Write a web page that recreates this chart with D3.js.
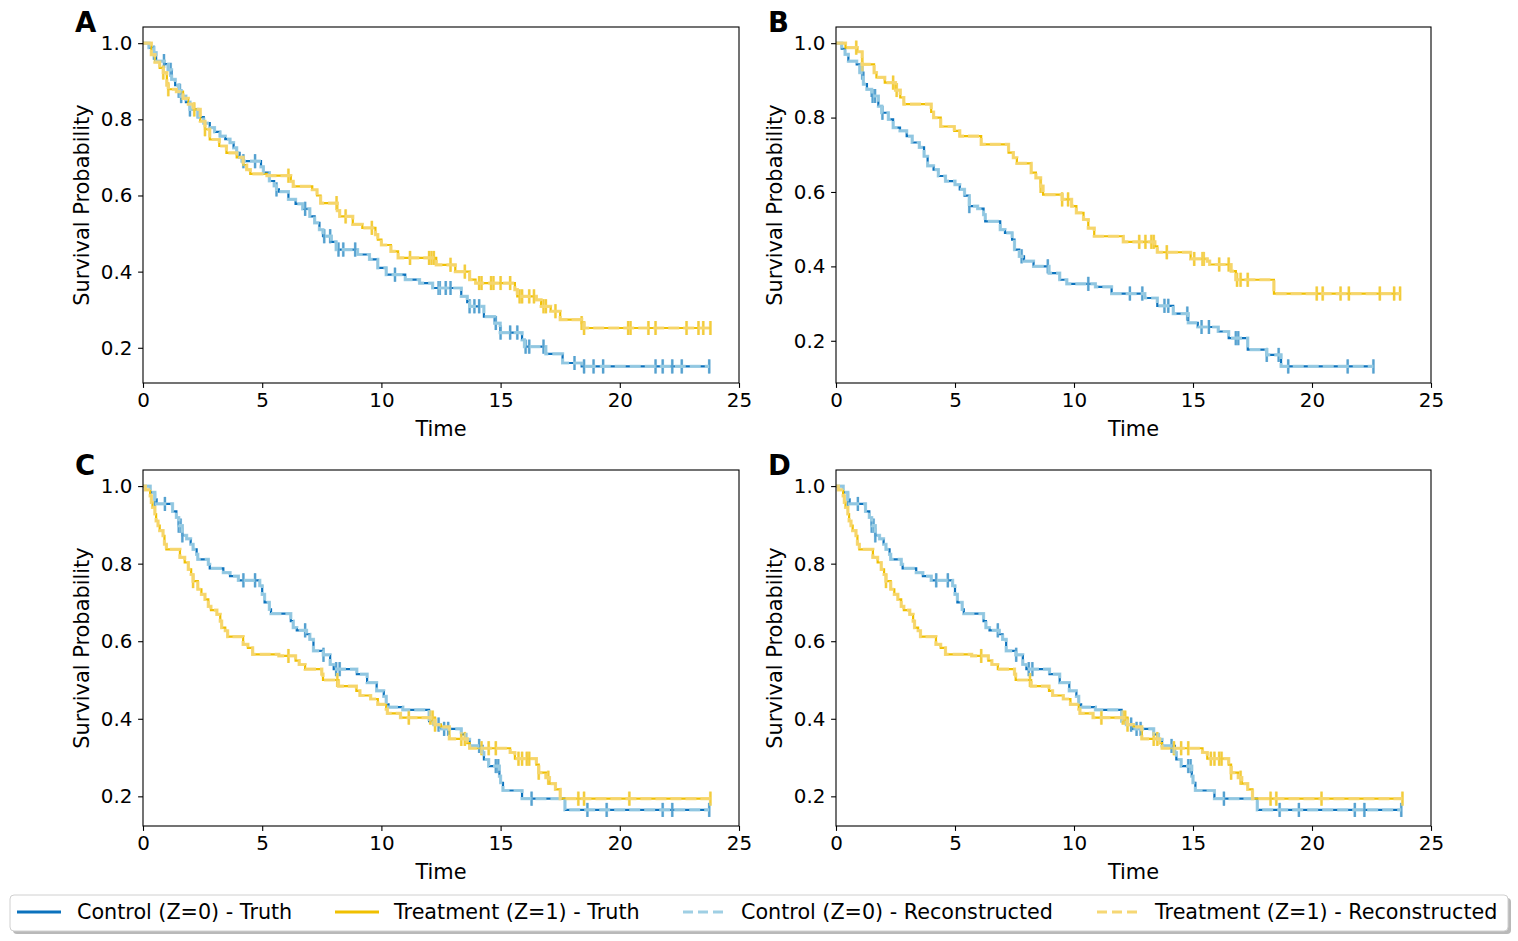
<!DOCTYPE html>
<html><head><meta charset="utf-8">
<script src="https://cdn.jsdelivr.net/npm/d3@7"></script>
<style>body{margin:0;background:#fff;} svg{display:block;font-family:"DejaVu Sans",sans-serif;}</style>
</head><body><svg id="c" width="1518" height="941"></svg>
<script>
// ---------- DATA ----------
const xTicks = [0, 5, 10, 15, 20, 25];
const yTicks = [0.2, 0.4, 0.6, 0.8, 1.0];
const seriesNames = ["Control (Z=0) - Truth", "Treatment (Z=1) - Truth", "Control (Z=0) - Reconstructed", "Treatment (Z=1) - Reconstructed"];
const panelLabels = ["A", "B", "C", "D"];

// Panel A - control
const aCtrlT = [0.25,0.45,0.55,0.9,1.05,1.2,1.35,1.5,1.6,1.8,1.97,2.3,2.55,2.8,3.0,3.23,3.45,3.65,3.8,3.93,4.05,4.15,4.95,5.05,5.3,5.5,5.6,5.7,6.1,6.4,6.7,7.0,7.2,7.4,7.55,7.9,8.1,9.0,9.5,9.85,10.2,11.0,11.6,12.15,13.35,13.6,13.7,14.3,14.75,14.98,15.9,16.0,16.9,17.6,18.4];
const aCtrlS = [0.988,0.975,0.953,0.945,0.93,0.905,0.89,0.875,0.861,0.845,0.826,0.806,0.79,0.778,0.767,0.756,0.748,0.739,0.725,0.712,0.70,0.69,0.675,0.66,0.638,0.625,0.616,0.61,0.59,0.578,0.565,0.545,0.528,0.51,0.493,0.478,0.458,0.445,0.432,0.41,0.392,0.379,0.37,0.357,0.335,0.32,0.309,0.282,0.265,0.24,0.221,0.203,0.184,0.16,0.151];
const aCtrlCens = [0.46,0.88,1.16,1.5,1.55,1.6,1.97,4.21,4.70,5.6,6.8,7.6,7.85,8.2,8.4,8.9,10.57,12.4,12.45,12.7,12.9,13.7,13.9,14.1,14.8,15.0,15.4,15.7,16.05,16.2,16.8,18.1,18.5,18.9,19.3,21.5,21.8,22.2,22.6,23.75];
// Panel A - treatment
const aTrtT = [0.35,0.5,0.7,0.85,1.0,1.06,1.4,1.68,1.9,2.1,2.4,2.6,2.8,3.2,3.5,3.93,4.2,4.35,4.5,5.2,6.2,6.3,7.1,7.3,7.45,8.15,8.25,8.8,9.2,9.75,9.85,10.0,10.4,10.7,12.3,13.1,13.7,13.95,15.6,15.7,16.5,16.7,17.1,17.5,18.4,18.5];
const aTrtS = [0.97,0.95,0.935,0.923,0.89,0.879,0.873,0.855,0.84,0.826,0.795,0.774,0.747,0.73,0.712,0.70,0.68,0.668,0.657,0.652,0.637,0.624,0.615,0.60,0.58,0.56,0.545,0.524,0.515,0.497,0.484,0.47,0.453,0.436,0.418,0.40,0.379,0.37,0.353,0.335,0.326,0.309,0.296,0.274,0.265,0.252];
const aTrtCens = [0.85,1.06,2.15,2.6,6.1,8.12,8.5,9.6,11.2,12.0,12.1,12.2,12.9,13.5,14.1,14.2,14.6,14.7,15.0,15.4,15.8,15.9,16.2,16.4,16.8,16.9,17.3,18.4,18.5,20.35,20.45,21.2,21.5,22.8,23.3,23.5,23.8];

// Panel B - control
const bCtrlT = [0.24,0.38,0.52,0.87,1.0,1.15,1.3,1.5,1.78,1.92,2.2,2.4,2.69,2.97,3.2,3.5,3.7,3.85,4.1,4.3,4.6,5.0,5.2,5.4,5.6,5.95,6.2,6.27,6.9,7.1,7.4,7.5,7.7,7.9,8.3,8.95,9.4,9.7,10.9,11.58,12.98,13.5,14.17,14.8,15.2,16.06,16.5,17.3,18.1,18.7];
const bCtrlS = [0.985,0.97,0.952,0.943,0.921,0.89,0.876,0.858,0.831,0.813,0.795,0.773,0.764,0.75,0.733,0.72,0.696,0.67,0.66,0.643,0.629,0.62,0.607,0.59,0.562,0.555,0.539,0.521,0.499,0.49,0.472,0.445,0.427,0.414,0.40,0.382,0.364,0.353,0.345,0.327,0.315,0.294,0.273,0.248,0.237,0.225,0.207,0.176,0.162,0.131];
const bCtrlCens = [1.1,1.54,1.64,1.95,5.6,7.8,8.9,10.6,12.35,12.87,13.8,13.96,14.76,15.36,15.67,16.8,16.9,18.1,18.6,19.0,21.5,22.58];
// Panel B - treatment
const bTrtT = [0.4,0.9,1.1,1.6,1.7,2.05,2.5,2.7,2.85,4.0,4.1,4.4,4.97,5.2,6.1,7.25,7.45,7.6,8.2,8.4,8.6,8.7,9.5,9.9,10.1,10.4,10.6,10.85,12.07,13.4,13.5,14.9,15.6,15.7,16.6,16.8,18.4];
const bTrtS = [0.988,0.977,0.943,0.921,0.908,0.894,0.874,0.854,0.836,0.815,0.80,0.776,0.764,0.75,0.728,0.706,0.692,0.677,0.652,0.638,0.616,0.593,0.58,0.562,0.544,0.526,0.503,0.481,0.466,0.454,0.438,0.42,0.414,0.405,0.387,0.364,0.327];
const bTrtCens = [0.85,1.1,2.4,2.55,8.6,9.5,9.75,12.74,13.0,13.25,13.35,13.9,15.05,15.4,15.45,16.1,16.5,16.85,17.0,17.3,20.2,20.45,21.2,21.55,22.85,23.45,23.7];

// Panel C - control
const cCtrlT = [0.3,0.5,0.57,1.24,1.4,1.5,1.65,1.83,2.0,2.1,2.25,2.3,2.74,2.8,3.37,3.65,4.0,4.9,5.0,5.1,5.3,5.37,6.2,6.3,6.45,6.86,7.0,7.15,7.56,7.85,8.0,8.97,9.4,9.8,10.1,10.2,10.3,10.9,12.0,12.2,12.48,13.35,13.55,13.7,14.24,14.3,14.5,14.95,15.0,15.1,15.9,17.7];
const cCtrlS = [0.984,0.966,0.954,0.935,0.919,0.898,0.873,0.864,0.85,0.837,0.824,0.811,0.798,0.788,0.777,0.768,0.757,0.743,0.721,0.70,0.682,0.671,0.652,0.635,0.628,0.618,0.605,0.575,0.565,0.54,0.528,0.515,0.493,0.472,0.458,0.437,0.43,0.423,0.394,0.385,0.374,0.36,0.347,0.33,0.313,0.295,0.278,0.252,0.235,0.215,0.194,0.165];
const cCtrlCens = [0.5,0.92,1.5,1.58,1.65,4.21,4.7,6.8,7.57,8.1,8.25,12.4,12.63,12.8,14.1,14.8,14.9,16.3,18.64,19.45,21.8,22.2,23.75];
// Panel C - treatment
const cTrtT = [0.1,0.3,0.35,0.4,0.5,0.55,0.63,0.7,0.84,0.9,0.98,1.55,1.75,1.9,2.02,2.1,2.3,2.45,2.6,2.74,2.85,3.1,3.24,3.3,3.45,3.55,4.2,4.4,4.6,5.7,6.4,6.55,6.8,7.5,7.55,8.2,8.95,9.1,9.55,9.85,10.2,10.25,10.8,12.25,12.5,12.85,13.6,13.7,15.4,15.6,16.5,16.6,16.9,17.05,17.3,17.5];
const cTrtS = [0.99,0.975,0.958,0.945,0.928,0.91,0.898,0.885,0.872,0.85,0.837,0.816,0.803,0.785,0.772,0.755,0.734,0.721,0.708,0.69,0.68,0.669,0.652,0.635,0.627,0.612,0.592,0.583,0.566,0.562,0.55,0.54,0.528,0.515,0.50,0.484,0.472,0.46,0.451,0.437,0.425,0.414,0.403,0.385,0.379,0.348,0.337,0.324,0.313,0.297,0.282,0.261,0.248,0.233,0.218,0.194];
const cTrtCens = [2.1,6.1,8.15,11.15,12.05,12.15,12.25,13.35,13.5,14.2,14.5,14.8,15.75,15.9,16.1,16.2,16.6,17.0,18.26,18.5,20.4,23.8];

// Panel D (same underlying data as C in the reference)
const dCtrlT = cCtrlT, dCtrlS = cCtrlS, dCtrlCens = cCtrlCens;
const dTrtT = cTrtT, dTrtS = cTrtS, dTrtCens = cTrtCens;

// ---------- STYLE / LAYOUT ----------
const COL = {ctrl:"#0b72bd", trt:"#f0c000", ctrlR:"#9fcfe4", trtR:"#f6d774"};
const panels = [
  {label:panelLabels[0], left:143, top:27, w:596, h:356, ydom:[0.1075,1.0425],
   ctrl:[aCtrlT,aCtrlS,aCtrlCens], trt:[aTrtT,aTrtS,aTrtCens]},
  {label:panelLabels[1], left:836, top:27, w:595, h:356, ydom:[0.0865,1.0435],
   ctrl:[bCtrlT,bCtrlS,bCtrlCens], trt:[bTrtT,bTrtS,bTrtCens]},
  {label:panelLabels[2], left:143, top:470, w:596, h:356, ydom:[0.1235,1.0415],
   ctrl:[cCtrlT,cCtrlS,cCtrlCens], trt:[cTrtT,cTrtS,cTrtCens]},
  {label:panelLabels[3], left:836, top:470, w:595, h:356, ydom:[0.1235,1.0415],
   ctrl:[dCtrlT,dCtrlS,dCtrlCens], trt:[dTrtT,dTrtS,dTrtCens]}
];

const svg = d3.select("#c");

function stepPoints(T, S, C) {
  const pts = [[0, 1]];
  let prev = 1;
  T.forEach((t, i) => { pts.push([t, prev]); pts.push([t, S[i]]); prev = S[i]; });
  const end = Math.max(d3.max(C), T[T.length - 1]);
  pts.push([end, prev]);
  return pts;
}
function survAt(T, S, t) {
  let s = 1;
  for (let i = 0; i < T.length; i++) if (T[i] <= t) s = S[i];
  return s;
}

panels.forEach(p => {
  const g = svg.append("g").attr("transform", `translate(${p.left},${p.top})`);
  const x = d3.scaleLinear([0, 25], [0, p.w]);
  const y = d3.scaleLinear(p.ydom, [p.h, 0]);
  const line = d3.line().x(d => x(d[0])).y(d => y(d[1]));

  const groups = [
    {d:p.ctrl, col:COL.ctrl, colR:COL.ctrlR},
    {d:p.trt, col:COL.trt, colR:COL.trtR}
  ];
  // truth lines
  groups.forEach(s => {
    g.append("path").datum(stepPoints(...s.d)).attr("d", line)
      .attr("fill", "none").attr("stroke", s.col).attr("stroke-width", 2.2);
    g.selectAll(null).data(s.d[2]).enter().append("line")
      .attr("x1", t => x(t)).attr("x2", t => x(t))
      .attr("y1", t => y(survAt(s.d[0], s.d[1], t)) - 7)
      .attr("y2", t => y(survAt(s.d[0], s.d[1], t)) + 7)
      .attr("stroke", s.col).attr("stroke-width", 2.2);
  });
  // reconstructed lines
  groups.forEach(s => {
    g.append("path").datum(stepPoints(...s.d)).attr("d", line)
      .attr("fill", "none").attr("stroke", s.colR).attr("stroke-width", 3.2)
      .attr("stroke-dasharray", "11,4").attr("stroke-opacity", 0.9);
    g.selectAll(null).data(s.d[2]).enter().append("line")
      .attr("x1", t => x(t)).attr("x2", t => x(t))
      .attr("y1", t => y(survAt(s.d[0], s.d[1], t)) - 7)
      .attr("y2", t => y(survAt(s.d[0], s.d[1], t)) + 7)
      .attr("stroke", s.colR).attr("stroke-width", 3).attr("stroke-opacity", 0.5);
  });

  // axes
  const ax = g.append("g").attr("transform", `translate(0,${p.h})`)
    .call(d3.axisBottom(x).tickValues(xTicks).tickFormat(d3.format("d")).tickSize(4.9).tickPadding(4.6));
  const ay = g.append("g")
    .call(d3.axisLeft(y).tickValues(yTicks).tickFormat(d3.format(".1f")).tickSize(4.9).tickPadding(5.6));
  [ax, ay].forEach(a => {
    a.select(".domain").remove();
    a.selectAll(".tick line").attr("stroke", "#000").attr("stroke-width", 1.1);
    a.selectAll(".tick text").attr("fill", "#000").style("font-size", "19.9px").style("font-family", "DejaVu Sans");
  });
  g.append("rect").attr("width", p.w).attr("height", p.h)
    .attr("fill", "none").attr("stroke", "#000").attr("stroke-width", 1.1);

  // labels
  g.append("text").attr("x", p.w / 2).attr("y", p.h + 53).attr("text-anchor", "middle")
    .style("font-size", "20.9px").text("Time");
  g.append("text").attr("transform", `translate(-54,${p.h / 2}) rotate(-90)`).attr("text-anchor", "middle")
    .style("font-size", "20.9px").text("Survival Probability");
  g.append("text").attr("x", -68).attr("y", 5).style("font-size", "27.5px").style("font-weight", "bold")
    .text(p.label);
});

// legend
const lg = svg.append("g");
lg.append("rect").attr("x", 13).attr("y", 898).attr("width", 1498).attr("height", 36).attr("rx", 4)
  .attr("fill", "#8a8a8a").attr("opacity", 0.6);
lg.append("rect").attr("x", 10).attr("y", 895).attr("width", 1498).attr("height", 36).attr("rx", 4)
  .attr("fill", "#fff").attr("stroke", "#d0d0d0").attr("stroke-width", 1);
const legItems = [
  {name:seriesNames[0], col:COL.ctrl, dash:null, lx:17, tx:77},
  {name:seriesNames[1], col:COL.trt, dash:null, lx:335, tx:394},
  {name:seriesNames[2], col:COL.ctrlR, dash:"10,5", lx:683, tx:741},
  {name:seriesNames[3], col:COL.trtR, dash:"10,5", lx:1097, tx:1155}
];
legItems.forEach(it => {
  lg.append("line").attr("x1", it.lx).attr("x2", it.lx + 44).attr("y1", 912).attr("y2", 912)
    .attr("stroke", it.col).attr("stroke-width", 3).attr("stroke-dasharray", it.dash);
  lg.append("text").attr("x", it.tx).attr("y", 919).style("font-size", "20.7px").attr("fill", "#000").text(it.name);
});
</script></body></html>
